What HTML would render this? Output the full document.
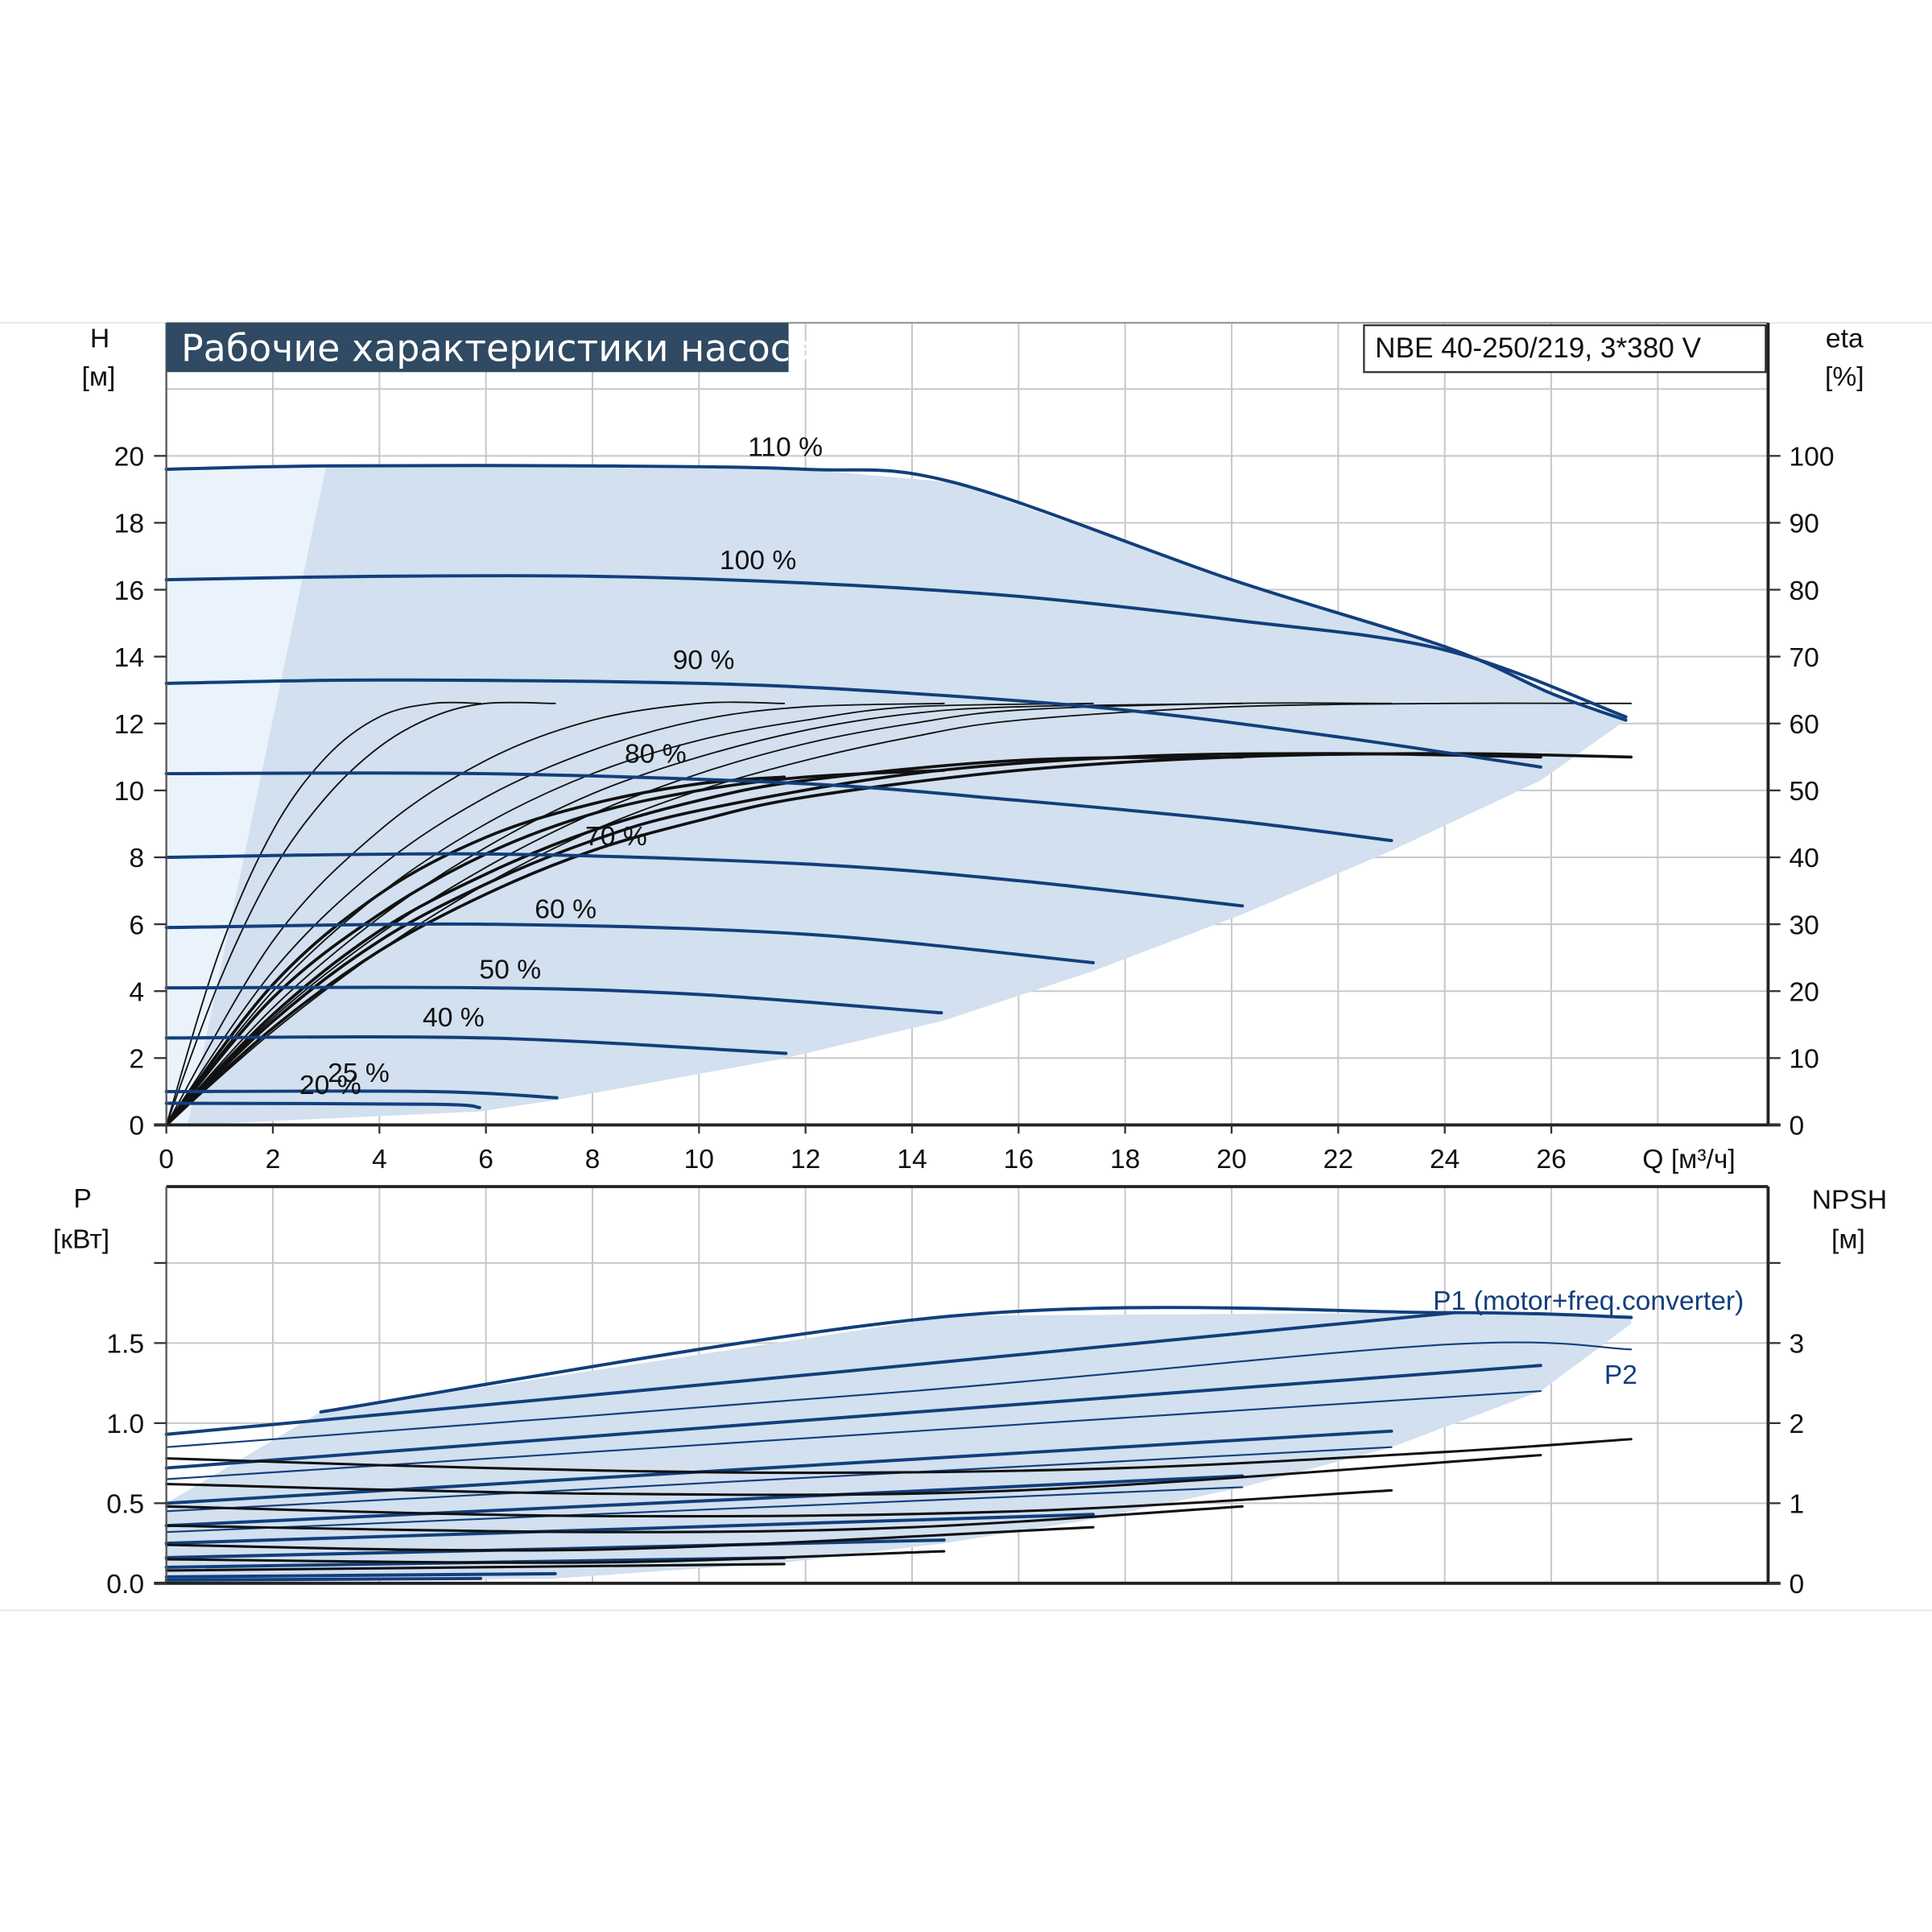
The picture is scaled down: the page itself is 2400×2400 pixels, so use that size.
<!DOCTYPE html>
<html><head><meta charset="utf-8">
<style>
html,body{margin:0;padding:0;background:#fff;}
svg{display:block;font-family:"Liberation Sans",sans-serif;}
</style></head>
<body>
<svg id="chart" xmlns="http://www.w3.org/2000/svg" width="2400" height="2400" viewBox="0 0 1568 1568">
<line x1="0" y1="262" x2="1568" y2="262" stroke="#e4e4e4" stroke-width="1"/>
<line x1="0" y1="1307" x2="1568" y2="1307" stroke="#e4e4e4" stroke-width="1"/>
<g id="grid"></g>
<g id="shade"></g>
<g id="curves"></g>
<g id="axes"></g>
<g id="labels"></g>
<rect x="135" y="262" width="505" height="40" fill="#2f4a62"/>
<text x="147" y="293" font-size="30" fill="#fff" font-family="'DejaVu Sans','Liberation Sans',sans-serif">Рабочие характеристики насоса</text>
<rect x="1107" y="264" width="326" height="38" fill="#fff" stroke="#333" stroke-width="1.5"/>
<text x="1116" y="290" font-size="23" fill="#111">NBE 40-250/219, 3*380 V</text>
</svg>
<script>
// ---- data ----
const qTicks=[0,2,4,6,8,10,12,14,16,18,20,22,24,26];
const hTicks=[0,2,4,6,8,10,12,14,16,18,20];
const etaTicks=[0,10,20,30,40,50,60,70,80,90,100];
const pTicks=[0.0,0.5,1.0,1.5];
const pTickLabels=["0.0","0.5","1.0","1.5"];
const npshTicks=[0,1,2,3];
const speedLabels=["110 %","100 %","90 %","80 %","70 %","60 %","50 %","40 %","25 %","20 %"];
const h110=[[0,19.6],[3,19.7],[8,19.7],[12,19.6],[14.8,19.2],[20,16.3],[24,14.3],[26,12.9],[27.4,12.1]];
const h100=[[0,16.3],[4,16.4],[8,16.4],[12,16.2],[16,15.8],[20,15.1],[24,14.2],[27.4,12.2]];
const h90=[[0,13.2],[4,13.3],[10,13.2],[14,12.9],[18,12.4],[22,11.6],[25.8,10.7]];
const h80=[[0,10.5],[6,10.5],[12,10.2],[16,9.7],[20,9.1],[23,8.5]];
const h70=[[0,8.0],[6,8.1],[12,7.8],[16,7.3],[20.2,6.55]];
const h60=[[0,5.9],[6,6.0],[12,5.7],[17.4,4.85]];
const h50=[[0,4.1],[6,4.1],[10,3.9],[14.55,3.35]];
const h40=[[0,2.6],[6,2.6],[11.63,2.14]];
const h25=[[0,1.0],[5,1.0],[7.33,0.81]];
const h20=[[0,0.65],[5,0.62],[5.88,0.52]];
const shadeLow=[[27.4,12.1],[25.8,10.3],[23,8.2],[20.2,6.3],[17.4,4.6],[14.55,3.1],[11.63,2.0],[7.33,0.75],[5.88,0.4],[0.4,0]];
const eta1=[[0,0],[1,5.2],[2,8.8],[3,11],[4,12.2],[5,12.6],[5.9,12.6]];
const eta2=[[0,0],[1,4.3],[2,7.6],[3,9.8],[4,11.3],[5,12.2],[6,12.6],[7.3,12.6]];
const eta3=[[0,0],[2,5.5],[4,8.8],[6,10.9],[8,12.1],[10,12.6],[11.6,12.6]];
const eta4=[[0,0],[2,4.6],[4,7.7],[6,9.8],[8,11.2],[10,12.1],[12,12.5],[14.6,12.6]];
const eta5=[[0,0],[2,4],[4,6.9],[6,9],[8,10.5],[10,11.5],[12,12.1],[14,12.5],[17.4,12.6]];
const eta6=[[0,0],[2,3.5],[4,6.2],[6,8.3],[8,9.9],[10,11],[12,11.8],[14,12.3],[16,12.5],[20.2,12.6]];
const eta7=[[0,0],[2,3.2],[4,5.7],[6,7.7],[8,9.3],[10,10.5],[12,11.4],[14,12],[16,12.4],[20,12.6],[23,12.6]];
const eta8=[[0,0],[2,2.8],[4,5.2],[6,7.2],[8,8.8],[10,10],[12,10.9],[14,11.6],[16,12.1],[20,12.5],[24,12.6],[27.5,12.6]];
const etaB1=[[0,0],[2,4.2],[4,6.9],[6,8.6],[8,9.6],[10,10.2],[11.6,10.4]];
const etaB2=[[0,0],[2,3.8],[4,6.3],[6,8.1],[8,9.3],[10,10],[12,10.4],[14.6,10.6]];
const etaB3=[[0,0],[2,3.3],[4,5.8],[6,7.5],[8,8.8],[10,9.7],[12,10.3],[16,10.9],[20.2,11]];
const etaB4=[[0,0],[2,3.1],[4,5.5],[6,7.2],[8,8.5],[10,9.4],[14,10.5],[18,11],[22,11.1],[25.8,11]];
const etaB5=[[0,0],[2,2.9],[4,5.2],[6,6.9],[8,8.2],[10,9.1],[12,9.8],[16,10.6],[20,11],[24,11.1],[27.5,11]];
const pEnv=[[2.9,1.07],[14.8,1.67],[24,1.69],[27.5,1.66]];
const p1_100=[[0,0.93],[12,1.3],[24.2,1.69]];
const p2_100=[[0,0.85],[14,1.2],[24,1.49],[27.5,1.46]];
const p1_90=[[0,0.72],[25.8,1.36]];
const p2_90=[[0,0.65],[25.8,1.2]];
const p1_80=[[0,0.5],[23,0.95]];
const p2_80=[[0,0.45],[23,0.85]];
const p1_70=[[0,0.36],[20.2,0.67]];
const p2_70=[[0,0.32],[20.2,0.6]];
const p1_60=[[0,0.25],[17.4,0.43]];
const p1_50=[[0,0.16],[14.6,0.27]];
const p1_40=[[0,0.1],[11.6,0.16]];
const p1_25=[[0,0.04],[7.3,0.06]];
const p1_20=[[0,0.02],[5.9,0.03]];
const pShadeLow=[[27.5,1.62],[25.8,1.2],[23,0.85],[20.2,0.6],[17.4,0.4],[14.6,0.25],[11.6,0.13],[7.3,0.03],[0,0]];
const npsh1=[[0,0.78],[6,0.72],[12,0.69],[18,0.72],[24,0.82],[27.5,0.9]];
const npsh2=[[0,0.62],[8,0.56],[16,0.58],[25.8,0.8]];
const npsh3=[[0,0.48],[8,0.42],[16,0.45],[23,0.58]];
const npsh4=[[0,0.36],[8,0.32],[14,0.35],[20.2,0.48]];
const npsh5=[[0,0.24],[8,0.21],[17.4,0.35]];
const npsh6=[[0,0.15],[8,0.13],[14.6,0.2]];
const npsh7=[[0,0.08],[11.6,0.12]];
// ---- axes ----
const X=q=>135+q*(1124/26);
const Y=h=>913-h*(543/20);
const YP=p=>1285-p*130;
const NS="http://www.w3.org/2000/svg";
function mk(tag,attrs,parent){const e=document.createElementNS(NS,tag);for(const k in attrs)e.setAttribute(k,attrs[k]);parent.appendChild(e);return e;}
function smooth(pts,fx,fy){
  const P=pts.map(p=>[fx(p[0]),fy(p[1])]);
  let d="M"+P[0][0].toFixed(1)+","+P[0][1].toFixed(1);
  for(let i=0;i<P.length-1;i++){
    const p0=P[Math.max(0,i-1)],p1=P[i],p2=P[i+1],p3=P[Math.min(P.length-1,i+2)];
    const c1=[p1[0]+(p2[0]-p0[0])/6,p1[1]+(p2[1]-p0[1])/6];
    const c2=[p2[0]-(p3[0]-p1[0])/6,p2[1]-(p3[1]-p1[1])/6];
    d+=" C"+c1.map(v=>v.toFixed(1))+" "+c2.map(v=>v.toFixed(1))+" "+p2[0].toFixed(1)+","+p2[1].toFixed(1);
  }
  return d;
}
const grid=document.getElementById('grid'),shade=document.getElementById('shade'),curves=document.getElementById('curves'),axes=document.getElementById('axes'),labels=document.getElementById('labels');
// grid top
for(let q=2;q<=28;q+=2){const l=mk('line',{x1:X(q),x2:X(q),y1:262,y2:913,stroke:'#c8c8c8','stroke-width':1.3},grid);


const l2=mk('line',{x1:X(q),x2:X(q),y1:963,y2:1285,stroke:'#c8c8c8','stroke-width':1.3},grid);

}
for(let h=2;h<=22;h+=2){const l=mk('line',{x1:135,x2:1435,y1:Y(h),y2:Y(h),stroke:'#c8c8c8','stroke-width':1.3},grid);

}
for(let p=0.5;p<=2;p+=0.5){const l=mk('line',{x1:135,x2:1435,y1:YP(p),y2:YP(p),stroke:'#c8c8c8','stroke-width':1.3},grid);

}
// shading top
const lightPoly=[[0,0],[0,19.6],[3,19.7],[0.4,0]];
let s1=mk('path',{d:"M"+lightPoly.map(p=>X(p[0])+","+Y(p[1])).join(" L")+"Z",fill:'#eaf3fb'},shade);


const env=h110.filter(p=>p[0]>=3);
let dPoly="M"+[...env,...shadeLow].map(p=>X(p[0]).toFixed(1)+","+Y(p[1]).toFixed(1)).join(" L")+"Z";
let s2=mk('path',{d:dPoly,fill:'#d2e0ef'},shade);


let dP="M"+[...pEnv,...pShadeLow,[0,0.5]].map(p=>X(p[0]).toFixed(1)+","+YP(p[1]).toFixed(1)).join(" L")+"Z";
let s3=mk('path',{d:dP,fill:'#d2e0ef'},shade);


// curves
function draw(pts,fy,color,w,name){const p=mk('path',{d:smooth(pts,X,fy),fill:'none',stroke:color,'stroke-width':w,'stroke-linecap':'round'},curves);

}
const etaThin=[eta1,eta2,eta3,eta4,eta5,eta6,eta7,eta8];
etaThin.forEach(c=>draw(c,Y,'#111',1.2,'eta-curve'));
[etaB1,etaB2,etaB3,etaB4,etaB5].forEach(c=>draw(c,Y,'#111',2.4,'eta-curve-thick'));
const blue='#123f7c';
[h110,h100,h90,h80,h70,h60,h50,h40,h25,h20].forEach(c=>draw(c,Y,blue,2.6,'head-curve'));
[pEnv,p1_100,p1_90,p1_80,p1_70,p1_60,p1_50,p1_40,p1_25,p1_20].forEach(c=>draw(c,YP,blue,2.6,'p1-curve'));
[p2_100,p2_90,p2_80,p2_70].forEach(c=>draw(c,YP,blue,1.4,'p2-curve'));
[npsh1,npsh2,npsh3,npsh4,npsh5,npsh6,npsh7].forEach(c=>draw(c,YP,'#111',2,'npsh-curve'));
// axes
function ln(x1,y1,x2,y2,w,c,name){const l=mk('line',{x1,y1,x2,y2,stroke:c||'#333','stroke-width':w},axes);

}
ln(135,262,135,913,1.5,'#555','left-axis-top');
ln(135,262,1435,262,1.5,'#999','top-frame');
ln(1435,262,1435,913,2.5,'#222','right-axis-top');
ln(125,913,1445,913,2.5,'#222','x-axis-top');
ln(135,963,1435,963,2.5,'#222','top-frame-bottom');
ln(135,963,135,1285,1.5,'#555','left-axis-bottom');
ln(1435,963,1435,1285,2.5,'#222','right-axis-bottom');
ln(125,1285,1445,1285,2.5,'#222','x-axis-bottom');
function tx(x,y,s,anchor,size,color,name){const t=mk('text',{x,y,'font-size':size||22,'text-anchor':anchor||'start',fill:color||'#111'},labels);t.textContent=s;

}
hTicks.forEach(h=>{ln(125,Y(h),135,Y(h),1.5,'#333','h-tick');tx(117,Y(h)+8,String(h),'end',22,'#111','h-tick-label');});
etaTicks.forEach((e,i)=>{const y=Y(hTicks[i]);ln(1435,y,1445,y,1.5,'#333','eta-tick');tx(1452,y+8,String(e),'start',22,'#111','eta-tick-label');});
qTicks.forEach(q=>{ln(X(q),913,X(q),920,1.5,'#333','q-tick');tx(X(q),948,String(q),'middle',22,'#111','q-tick-label');});
ln(125,YP(2),135,YP(2),1.5,'#333','p-tick');
ln(1435,YP(2),1445,YP(2),1.5,'#333','npsh-tick');
pTicks.forEach((p,i)=>{ln(125,YP(p),135,YP(p),1.5,'#333','p-tick');tx(117,YP(p)+8,pTickLabels[i],'end',22,'#111','p-tick-label');});
npshTicks.forEach(n=>{ln(1435,YP(n/2),1445,YP(n/2),1.5,'#333','npsh-tick');tx(1452,YP(n/2)+8,String(n),'start',22,'#111','npsh-tick-label');});
tx(81,282,'H','middle',22,'#111','h-axis-title');
tx(80,313,'[м]','middle',22,'#111','h-axis-unit');
tx(1497,282,'eta','middle',22,'#111','eta-axis-title');
tx(1497,313,'[%]','middle',22,'#111','eta-axis-unit');
tx(1333,948,'Q [м³/ч]','start',22,'#111','q-axis-title');
tx(67,980,'P','middle',22,'#111','p-axis-title');
tx(66,1013,'[кВт]','middle',22,'#111','p-axis-unit');
tx(1501,981,'NPSH','middle',22,'#111','npsh-axis-title');
tx(1500,1013,'[м]','middle',22,'#111','npsh-axis-unit');
tx(1163,1063,'P1 (motor+freq.converter)','start',22,blue,'p1-label');
tx(1302,1123,'P2','start',22,blue,'p2-label');
const lblPos=[[607,370],[584,462],[546,543],[507,619],[475,686],[434,745],[389,794],[343,833],[266,878],[243,888]];
speedLabels.forEach((s,i)=>tx(lblPos[i][0],lblPos[i][1],s,'start',22,'#111','speed-label'));
</script>
</body></html>
